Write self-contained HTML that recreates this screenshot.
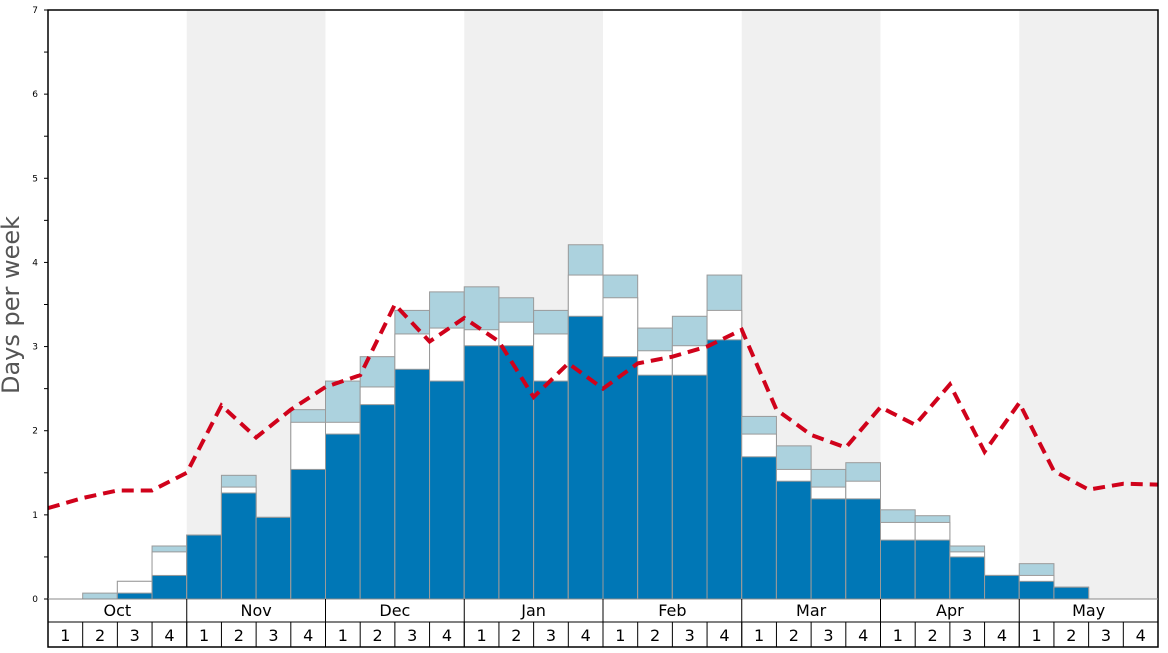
<!DOCTYPE html>
<html><head><meta charset="utf-8"><style>
body{margin:0;background:#fff;font-family:"Liberation Sans","DejaVu Sans",sans-serif}
svg text{font-family:"DejaVu Sans","Liberation Sans",sans-serif}
</style></head><body>
<svg id="c" width="1168" height="648" xmlns="http://www.w3.org/2000/svg"></svg>
<script>
const months=["Oct","Nov","Dec","Jan","Feb","Mar","Apr","May"];
const darkVals=[0,0,0.07,0.28,0.76,1.26,0.97,1.54,1.96,2.31,2.73,2.59,3.01,3.01,2.59,3.36,2.88,2.66,2.66,3.08,1.69,1.4,1.19,1.19,0.7,0.7,0.5,0.28,0.21,0.14,0,0];
const whiteVals=[0,0,0.21,0.56,0.76,1.33,0.97,2.1,2.1,2.52,3.15,3.22,3.2,3.29,3.15,3.85,3.58,2.95,3.01,3.43,1.96,1.54,1.33,1.4,0.91,0.91,0.56,0.28,0.28,0.14,0,0];
const lightVals=[0,0.07,0.21,0.63,0.76,1.47,0.97,2.25,2.59,2.88,3.43,3.65,3.71,3.58,3.43,4.21,3.85,3.22,3.36,3.85,2.17,1.82,1.54,1.62,1.06,0.99,0.63,0.28,0.42,0.14,0,0];
const lineVals=[1.08,1.2,1.29,1.29,1.5,2.3,1.92,2.25,2.52,2.66,3.5,3.06,3.34,3.06,2.4,2.8,2.5,2.8,2.88,3.0,3.2,2.25,1.95,1.8,2.28,2.07,2.55,1.75,2.33,1.52,1.3,1.37,1.36];
const yTicks=[0,1,2,3,4,5,6,7];
const svg=document.getElementById('c');const NS="http://www.w3.org/2000/svg";
const X0=48,X1=1158,Y0=599,Y1=10,W=(X1-X0)/32;
const x=i=>X0+i*W, y=v=>Y0-(v/7)*(Y0-Y1);
function mk(t,a,p){const e=document.createElementNS(NS,t);for(const k in a)e.setAttribute(k,a[k]);(p||svg).appendChild(e);return e;}
months.forEach((m,i)=>{if(i%2==1){const r=mk('rect',{x:x(i*4),y:Y1,width:4*W,height:Y0-Y1,fill:'#f0f0f0'});

}});
for(let i=0;i<32;i++){
 const segs=[[lightVals[i],'#acd2de'],[whiteVals[i],'#ffffff'],[darkVals[i],'#0077b6']];
 segs.forEach(([v,c],k)=>{if(v<=0)return;const r=mk('rect',{x:x(i),y:y(v),width:W,height:Y0-y(v),fill:c,stroke:'#9a9a9a','stroke-width':1});
 
 });
}
const pl=mk('polyline',{points:lineVals.map((v,i)=>x(i)+','+y(v)).join(' '),fill:'none',stroke:'#d0021b','stroke-width':4,'stroke-dasharray':'12,7'});


mk('rect',{x:X0,y:Y1,width:X1-X0,height:647-Y1,fill:'none',stroke:'#000','stroke-width':1.5});
mk('line',{x1:X0,y1:Y0,x2:X1,y2:Y0,stroke:'#888'});
mk('line',{x1:X0,y1:622,x2:X1,y2:622,stroke:'#000'});
mk('line',{x1:X0,y1:647,x2:X1,y2:647,stroke:'#000'});
for(let v=0;v<=7;v+=0.5){mk('line',{x1:X0-4,y1:y(v),x2:X0,y2:y(v),stroke:'#000'});}
yTicks.forEach(v=>{const t=mk('text',{x:38,y:y(v)+3,'font-size':9,'text-anchor':'end'});t.textContent=v;

});
const yl=mk('text',{x:19,y:305,'font-size':24,fill:'#555','text-anchor':'middle',transform:'rotate(-90 19 305)'});yl.textContent='Days per week';


months.forEach((m,i)=>{mk('line',{x1:x(i*4),y1:Y0,x2:x(i*4),y2:647,stroke:'#000'});
const t=mk('text',{x:x(i*4)+2*W,y:616,'font-size':16,'text-anchor':'middle'});t.textContent=m;

});
for(let i=0;i<32;i++){mk('line',{x1:x(i),y1:622,x2:x(i),y2:647,stroke:'#000'});
const t=mk('text',{x:x(i)+W/2,y:641,'font-size':16,'text-anchor':'middle'});t.textContent=(i%4)+1;

}
</script>
</body></html>
